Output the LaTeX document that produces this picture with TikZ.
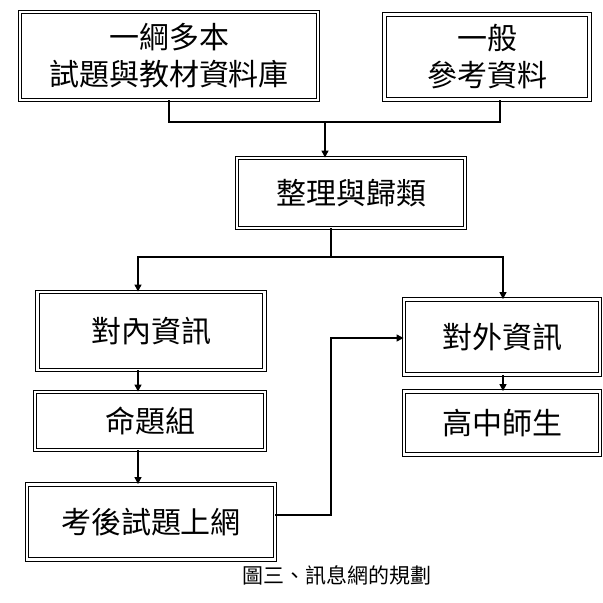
\documentclass[tikz,border=0pt]{standalone}
\usepackage{fontspec}
\setmainfont{Noto Sans CJK TC}
\usetikzlibrary{arrows.meta}

\tikzset{
  box/.style={draw, double, double distance=2.6pt, line width=0.9pt,
    inner sep=0pt, align=center, font=\fontsize{30}{37}\selectfont},
  flow/.style={line width=1.2pt},
  arr/.style={flow, -{Triangle[length=7pt,width=7pt]}}
}

\begin{document}
\begin{tikzpicture}[x=1pt,y=-1pt]
  \useasboundingbox (0,0) rectangle (603,603);
  % boxes
  \node[box, minimum width=298, minimum height=88] (db) at (169,56)
    {一綱多本\\試題與教材資料庫};
  \node[box, minimum width=205, minimum height=85] (ref) at (487,57)
    {一般\\參考資料};
  \node[box, minimum width=228, minimum height=70] (sort) at (351,193)
    {整理與歸類};
  \node[box, minimum width=227, minimum height=78] (inner) at (151,331)
    {對內資訊};
  \node[box, minimum width=196, minimum height=75] (outer) at (502,337)
    {對外資訊};
  \node[box, minimum width=230, minimum height=58] (exam) at (150,421)
    {命題組};
  \node[box, minimum width=196, minimum height=63] (school) at (502,423)
    {高中師生};
  \node[box, minimum width=248, minimum height=75] (web) at (151,522)
    {考後試題上網};
  \node[font=\fontsize{21}{25}\selectfont] (cap) at (337,575)
    {圖三、訊息網的規劃};

  % connectors
  \coordinate (top) at (325,122);
  \coordinate (mid) at (331,257);
  \coordinate (back) at (331,338);
  \draw[flow] (db.south) |- (top) -| (ref.south -| 500,0);
  \draw[arr] (top) -- (sort.north -| top);
  \draw[flow] (sort.south -| mid) -- (mid);
  \draw[arr] (mid) -| (inner.north -| 138,0);
  \draw[arr] (mid) -| (outer.north -| 503,0);
  \draw[arr] (inner.south -| 138,0) -- (exam.north -| 138,0);
  \draw[arr] (exam.south -| 138,0) -- (web.north -| 138,0);
  \draw[arr] (outer.south -| 503,0) -- (school.north -| 503,0);
  \draw[arr] (web.east |- 0,515) -| (back) -- (outer.west |- back);
\end{tikzpicture}
\end{document}
